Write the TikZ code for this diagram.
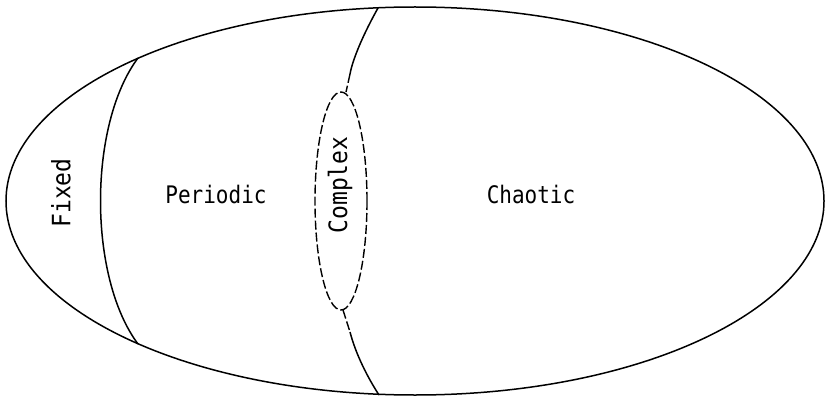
\documentclass[tikz,border=0pt]{standalone}
\usepackage{fontspec}
\newfontfamily\plotfont{DejaVu Sans Mono}
\begin{document}
\begin{tikzpicture}[x=1pt,y=-1pt,
  bound/.style={line width=1.5pt},
  dashbound/.style={line width=1.4pt, dash pattern=on 9pt off 3pt},
  lbl/.style={font=\plotfont\fontsize{21}{21}\selectfont, inner sep=0pt},
  vlbl/.style={font=\plotfont\fontsize{23}{23}\selectfont, inner sep=0pt, rotate=90}]
\useasboundingbox (0,0) rectangle (826,398);
% outer ellipse
\draw[bound] (415,201) ellipse [x radius=409, y radius=194];
% Fixed / Periodic divider
\coordinate (fp1) at (138,58);
\coordinate (fp2) at (138,344);
\draw[bound] (fp1) .. controls (88,125) and (88,277) .. (fp2);
% complex ellipse
\draw[dashbound] (341,201) ellipse [x radius=26, y radius=109];
\coordinate (ctop) at (346,92);
\coordinate (cbot) at (343,310);
% upper divider
\coordinate (ut) at (378,8);
\coordinate (um) at (350,74);
\draw[bound] (ut) .. controls (364,33) and (353,58) .. (um);
\draw[dashbound] (um) -- (ctop);
% lower divider
\coordinate (lm) at (350,332);
\coordinate (lb) at (379,395);
\draw[dashbound] (cbot) -- (lm);
\draw[bound] (lm) .. controls (356,355) and (368,378) .. (lb);
% labels
\node[vlbl] (fixed) at (61,193) {\scalebox{1}[1.1]{Fixed}};
\node[lbl] (periodic) at (216,194) {\scalebox{1}[1.15]{Periodic}};
\node[vlbl] (complex) at (340,185) {\scalebox{1}[1.1]{Complex}};
\node[lbl] (chaotic) at (531,194) {\scalebox{1}[1.15]{Chaotic}};
\end{tikzpicture}
\end{document}
